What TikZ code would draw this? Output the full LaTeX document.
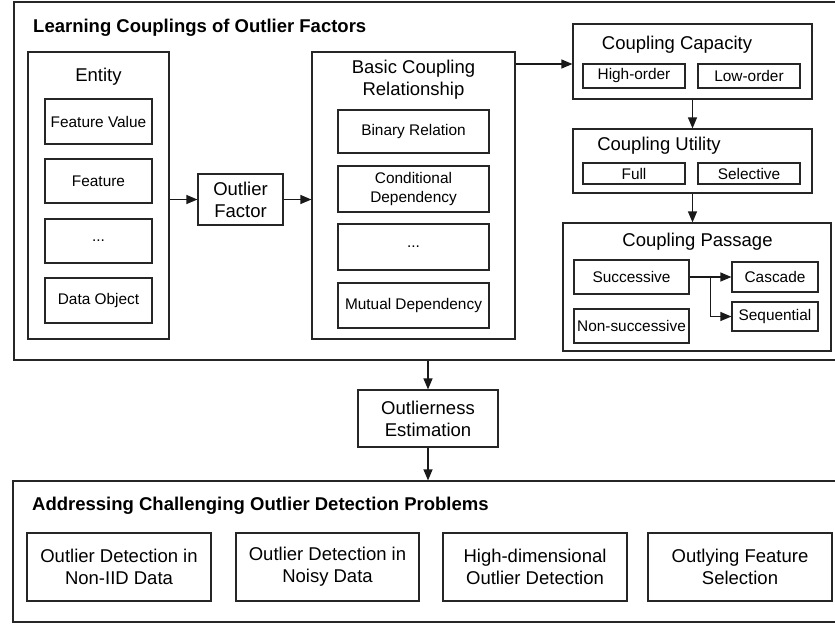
\documentclass[tikz,border=0pt]{standalone}
\usepackage{fontspec}
\setmainfont{Liberation Sans}
\usetikzlibrary{arrows.meta,calc}
\tikzset{
  bigfont/.style={font=\fontsize{18.5}{22}\selectfont},
  smallfont/.style={font=\fontsize{15.4}{18.5}\selectfont},
  obox/.style={draw=black!85, line width=1.2pt, inner sep=0pt, fill=none},
  gbox/.style={draw=black!85, line width=1.2pt, inner sep=0pt, align=center},
  sbox/.style={gbox, smallfont},
  bbox/.style={gbox, bigfont},
  ttl/.style={inner sep=0pt, bigfont},
  hdr/.style={inner sep=0pt, font=\fontsize{18.5}{22}\selectfont\bfseries},
  arr/.style={draw=black!90, line width=1.2pt, -{Triangle[length=11pt,width=9pt]}},
}
\begin{document}
\begin{tikzpicture}[x=1pt,y=-1pt]
\clip (0,0) rectangle (835,624);
\useasboundingbox (0,0) rectangle (835,624);
\fill[white] (0,0) rectangle (835,624);

% outer boxes
\node[obox, minimum width=823pt, minimum height=358pt] (top) at (425.5,181) {};
\node[obox, minimum width=824pt, minimum height=141pt] (bot) at (425,551.5) {};

\node[hdr, anchor=base west] (t1) at (33,32.3) {Learning Couplings of Outlier Factors};
\node[hdr, anchor=base west] (t2) at (32,510) {Addressing Challenging Outlier Detection Problems};

% Entity
\node[obox, minimum width=141pt, minimum height=287pt] (entity) at (98.5,195.5) {};
\node[ttl, anchor=base] (entityt) at (98.5,81) {Entity};
\node[sbox, minimum width=107pt, minimum height=45pt] (fv) at (98.5,121.5) {Feature Value};
\node[sbox, minimum width=107pt, minimum height=44pt] (feat) at (98.5,181) {Feature};
\node[sbox, minimum width=107pt, minimum height=44pt] (dots1) at (98.5,241) {...};
\node[sbox, minimum width=107pt, minimum height=45pt] (dobj) at (98.5,300.5) {Data Object};

% Outlier factor
\node[bbox, minimum width=85pt, minimum height=51pt] (of) at (240.5,199.5) {Outlier\\Factor};

% Basic coupling
\node[obox, minimum width=203pt, minimum height=287pt] (basic) at (413.5,195.5) {};
\node[ttl, anchor=north, align=center] (basict) at (413.5,60) {Basic Coupling\\Relationship};
\node[sbox, minimum width=151pt, minimum height=43pt] (bin) at (413.5,131.5) {Binary Relation};
\node[sbox, minimum width=151pt, minimum height=46pt] (cond) at (413.5,189) {Conditional\\Dependency};
\node[sbox, minimum width=151pt, minimum height=46pt] (dots2) at (413.5,247) {...};
\node[sbox, minimum width=151pt, minimum height=45pt] (mut) at (413.5,305.5) {Mutual Dependency};

% Coupling capacity
\node[obox, minimum width=239pt, minimum height=75pt] (cap) at (692.5,61.5) {};
\node[ttl, anchor=base] (capt) at (677,49.3) {Coupling Capacity};
\node[sbox, minimum width=102pt, minimum height=24pt] (high) at (634,76) {High-order};
\node[sbox, minimum width=102pt, minimum height=24pt] (low) at (749,76) {Low-order};

% Coupling utility
\node[obox, minimum width=239pt, minimum height=64pt] (util) at (692.5,161) {};
\node[ttl, anchor=base] (utilt) at (659,150) {Coupling Utility};
\node[sbox, minimum width=102pt, minimum height=21pt] (full) at (634,173.5) {Full};
\node[sbox, minimum width=102pt, minimum height=21pt] (sel) at (749,173.5) {Selective};

% Coupling passage
\node[obox, minimum width=268pt, minimum height=128pt] (pass) at (697,287) {};
\node[ttl, anchor=base] (passt) at (697.5,246.7) {Coupling Passage};
\node[sbox, minimum width=115pt, minimum height=34pt] (succ) at (631.5,277) {Successive};
\node[sbox, minimum width=115pt, minimum height=34pt] (nsucc) at (631.5,326) {Non-successive};
\node[sbox, minimum width=86pt, minimum height=30pt] (casc) at (775,277) {Cascade};
\node[sbox, minimum width=86pt, minimum height=29pt] (seq) at (775,316.5) {Sequential};

% Outlierness estimation
\node[bbox, minimum width=140pt, minimum height=57pt] (oe) at (428,418.5) {Outlierness\\Estimation};

% bottom boxes
\node[bbox, minimum width=184pt, minimum height=68pt] (b1) at (119,567) {Outlier Detection in\\Non-IID Data};
\node[bbox, minimum width=183pt, minimum height=68pt] (b2) at (327.5,567) {Outlier Detection in\\Noisy Data};
\node[bbox, minimum width=184pt, minimum height=68pt] (b3) at (535,567) {High-dimensional\\Outlier Detection};
\node[bbox, minimum width=184pt, minimum height=68pt] (b4) at (740,567) {Outlying Feature\\Selection};

% connectors
\draw[arr] (entity.east |- of.west) -- (of.west);
\draw[arr] (of.east) -- (of.east -| basic.west);
\coordinate (capin) at ([yshift=-2.5pt]cap.west);
\draw[arr] (basic.east |- capin) -- (capin);
\draw[arr] (cap.south) -- (util.north);
\draw[arr] (util.south) -- (util.south |- pass.north);
\draw[arr] (succ.east) -- (casc.west);
\coordinate (br) at ($(succ.east)!0.5!(casc.west)$);
\draw[arr] (br) |- (seq.west);
\draw[arr] (top.south -| oe.north) -- (oe.north);
\draw[arr] (oe.south) -- (oe.south |- bot.north);
\end{tikzpicture}
\end{document}
